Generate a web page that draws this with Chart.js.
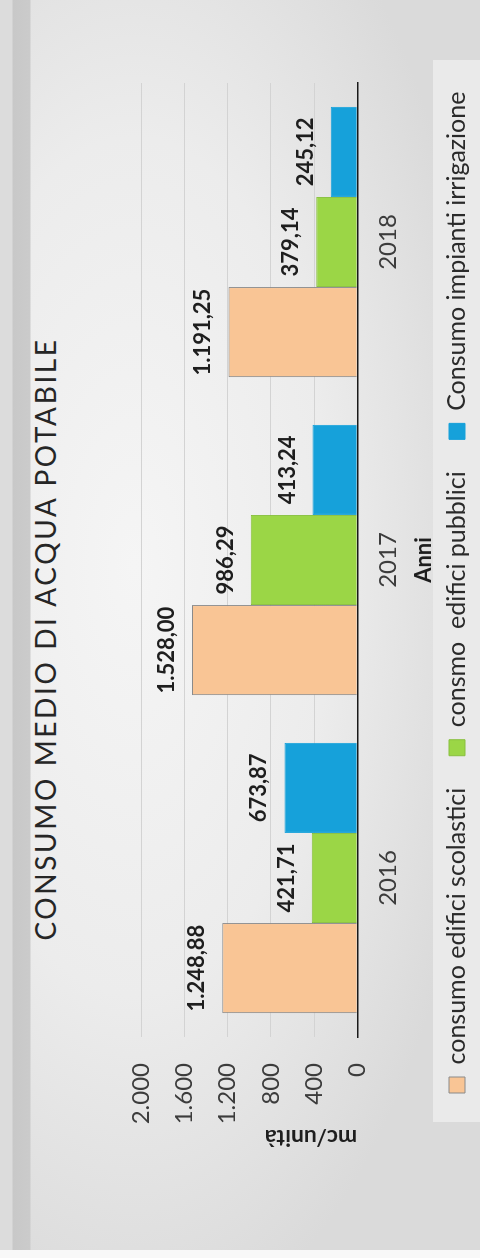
<!DOCTYPE html>
<html lang="it">
<head>
<meta charset="utf-8">
<title>Consumo medio di acqua potabile</title>
<script src="https://cdn.jsdelivr.net/npm/chart.js@4.4.1/dist/chart.umd.min.js"></script>
<style>
  html, body { margin: 0; padding: 0; width: 480px; height: 1258px; overflow: hidden; background: #dcdcdc; }
  /* the whole sheet is laid out landscape and turned a quarter turn */
  #foglio {
    position: absolute; left: 0; top: 0; width: 1258px; height: 480px;
    transform-origin: 0 0; transform: translate(0, 1258px) rotate(-90deg);
    background:
      linear-gradient(to right, #f8f8f8 0, #f8f8f8 8px, transparent 8px),
      linear-gradient(to bottom, #dcdcdc 0, #dcdcdc 12px, #c8c8c8 13px, #cbcbcb 30px, transparent 31px),
      radial-gradient(ellipse 62% 75% at 55% 28%, #f5f5f5 0%, #ececec 55%, #dadada 100%);
  }
  #fondoLegenda { position: absolute; left: 136px; top: 433px; width: 1062px; height: 47px; background: #eaeaea; }
  #titolo {
    position: absolute; left: 0; top: 27px; width: 1238px; text-align: center;
    font: 28px Lato, sans-serif; letter-spacing: 2.6px; line-height: 36px; color: #262626; white-space: nowrap;
  }
  canvas { position: absolute; left: 0; top: 0; }
</style>
</head>
<body>
<div id="foglio">
  <div id="fondoLegenda"></div>
  <div id="titolo">CONSUMO MEDIO DI ACQUA POTABILE</div>
  <canvas id="grafico" width="1258" height="480"></canvas>
</div>
<script>
// Anni e consumi medi (mc/unità)
const anni = ['2016', '2017', '2018'];
const scolastici = [1248.88, 1528.00, 1191.25];
const pubblici = [421.71, 986.29, 379.14];
const irrigazione = [673.87, 413.24, 245.12];
const nomiSerie = ['consumo edifici scolastici', 'consmo  edifici pubblici', 'Consumo impianti irrigazione'];
const asseMin = 0;
const asseMax = 2000;
const passoAsse = 400;

// numeri all'italiana: punto per le migliaia, virgola per i decimali
function formatIt(v, dec) {
  const parts = v.toFixed(dec).split('.');
  const intero = parts[0].replace(/\B(?=(\d{3})+(?!\d))/g, '.');
  return parts.length > 1 ? intero + ',' + parts[1] : intero;
}

// valori scritti sopra ogni barra
const etichetteValori = {
  id: 'etichetteValori',
  afterDatasetsDraw(chart) {
    const ctx = chart.ctx;
    ctx.save();
    ctx.font = 'bold 22px Lato, sans-serif';
    ctx.fillStyle = '#1e1e1e';
    ctx.textAlign = 'center';
    ctx.textBaseline = 'alphabetic';
    chart.data.datasets.forEach((ds, i) => {
      chart.getDatasetMeta(i).data.forEach((bar, j) => {
        ctx.fillText(formatIt(ds.data[j], 2), bar.x, bar.y - 18);
      });
    });
    ctx.restore();
  }
};

Chart.defaults.font.family = 'Lato, sans-serif';

new Chart(document.getElementById('grafico'), {
  type: 'bar',
  data: {
    labels: anni,
    datasets: [
      { label: nomiSerie[0], data: scolastici, backgroundColor: '#f9c595', borderColor: '#8a8a8a', borderWidth: 1,
        categoryPercentage: 0.85, barPercentage: 1 },
      { label: nomiSerie[1], data: pubblici, backgroundColor: '#9bd646', borderColor: '#88bf3e', borderWidth: 1,
        categoryPercentage: 0.85, barPercentage: 1 },
      { label: nomiSerie[2], data: irrigazione, backgroundColor: '#16a1da', borderColor: '#16a1da', borderWidth: 1,
        categoryPercentage: 0.85, barPercentage: 1 }
    ]
  },
  options: {
    responsive: false,
    animation: false,
    devicePixelRatio: 1,
    layout: { padding: { top: 141, left: 133, right: 0, bottom: 0.5 } },
    plugins: {
      title: { display: false },
      tooltip: { enabled: false },
      legend: {
        position: 'bottom',
        align: 'start',
        labels: {
          boxWidth: 16, boxHeight: 16, padding: 32,
          color: '#2a2a2a', font: { size: 25 }
        }
      }
    },
    scales: {
      x: {
        grid: { display: false, drawTicks: false },
        border: { display: true, color: '#1a1a1a', width: 1.5 },
        ticks: { padding: 17, color: '#3c3c3c', font: { size: 24 } },
        title: {
          display: true, text: 'Anni', color: '#1e1e1e',
          font: { size: 22, weight: 'bold' }, padding: { top: -9, bottom: -25 }
        }
      },
      y: {
        min: asseMin, max: asseMax,
        grid: { color: '#d3d3d3', lineWidth: 1, drawTicks: false },
        border: { display: false },
        ticks: {
          stepSize: passoAsse, padding: 26, color: '#3c3c3c', font: { size: 24 },
          callback: v => formatIt(v, 0)
        },
        title: {
          display: true, text: 'mc/unità', align: 'start', color: '#1e1e1e',
          font: { size: 23, weight: 'bold' }, padding: { top: -26, bottom: 0 }
        },
        afterFit(scale) { scale.width = 88; }
      },
      // margine destro dell'area del grafico
      margine: {
        position: 'right', display: true,
        grid: { display: false }, ticks: { display: false }, border: { display: false },
        afterFit(scale) { scale.width = 83; }
      }
    }
  },
  plugins: [etichetteValori]
});
</script>
</body>
</html>
